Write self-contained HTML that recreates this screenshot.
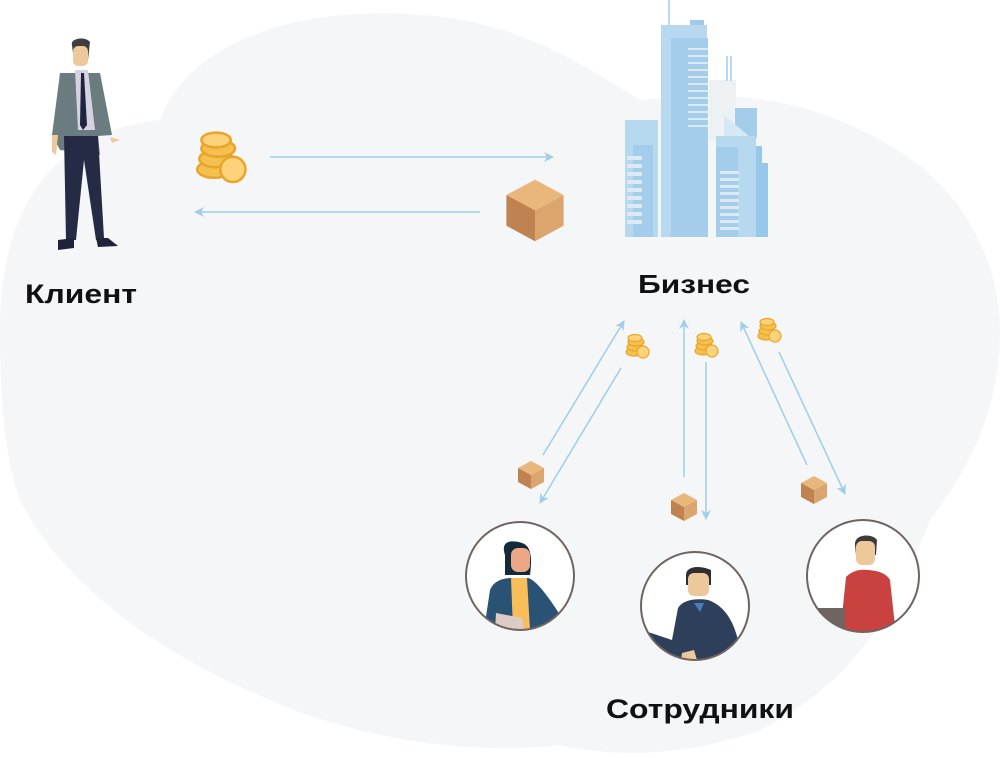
<!DOCTYPE html>
<html><head><meta charset="utf-8"><style>
html,body{margin:0;padding:0;background:#fff;}
svg{display:block}
text{font-family:"Liberation Sans",sans-serif;font-weight:bold;fill:#111}
</style></head><body>
<svg width="1000" height="758" viewBox="0 0 1000 758" xmlns="http://www.w3.org/2000/svg">
<defs>
<marker id="ah" markerWidth="10" markerHeight="10" refX="9" refY="5" orient="auto" markerUnits="userSpaceOnUse">
<path d="M0,0 L10,5 L0,10 L3,5 Z" fill="#9fcdea"/></marker>
<g id="coins">
<ellipse cx="0" cy="14" rx="8" ry="4" fill="#f4c04f" stroke="#e9a52a" stroke-width="1.2"/>
<ellipse cx="1" cy="9" rx="8" ry="4" fill="#f4c04f" stroke="#e9a52a" stroke-width="1.2"/>
<ellipse cx="2" cy="4" rx="8" ry="4" fill="#f4c04f" stroke="#e9a52a" stroke-width="1.2"/>
<ellipse cx="1" cy="0" rx="7" ry="3.5" fill="#fcd27a" stroke="#e9a52a" stroke-width="1.2"/>
<circle cx="9" cy="14" r="6" fill="#fcd27a" stroke="#e9a52a" stroke-width="1.2"/>
</g>
<g id="box">
<path d="M0,-12 L13,-5 L0,2 L-13,-5Z" fill="#e9b77c"/>
<path d="M-13,-5 L0,2 L0,16 L-13,9Z" fill="#c08250"/>
<path d="M13,-5 L0,2 L0,16 L13,9Z" fill="#dba66d"/>
</g>
</defs>
<!-- blob -->
<path d="M0,330 C0,200 60,130 160,120 C190,40 300,5 420,15 C520,20 590,70 640,100 C700,95 780,85 880,140 C960,180 1000,260 1000,330 C1000,420 960,480 930,520 C900,600 860,680 760,730 C680,760 600,755 560,745 C470,755 360,740 270,700 C150,650 60,580 20,500 C5,460 0,400 0,330Z" fill="#f5f6f8"/>
<!-- client -->
<g>
<path d="M72,45 C70,38 86,36 90,42 L88,60 L74,62 Z" fill="#3d3d3d"/>
<rect x="73" y="46" width="15" height="20" rx="5" fill="#ecc89b"/>
<path d="M60,73 L100,73 L112,135 L98,136 L100,155 L60,150 L52,135 Z" fill="#6a7c7f"/>
<path d="M75,70 L88,70 L95,130 L78,130 Z" fill="#d7d2e2"/>
<path d="M81,73 L84,73 L87,125 L83,130 L80,125Z" fill="#1f2540"/>
<path d="M64,136 L98,136 L104,238 L96,240 L84,160 L76,240 L66,240 Z" fill="#262b45"/>
<path d="M58,240 L74,238 L74,248 L58,250Z" fill="#1f2238"/>
<path d="M96,238 L108,238 L118,246 L98,247Z" fill="#1f2238"/>
<path d="M110,137 L120,140 L112,143Z" fill="#ecc89b"/>
<path d="M52,135 L58,135 L56,155 L52,152Z" fill="#ecc89b"/>
</g>
<text x="25" y="303" font-size="27" textLength="112" lengthAdjust="spacingAndGlyphs">Клиент</text>
<!-- coins big -->
<g transform="translate(214,140) scale(2.1)"><use href="#coins"/></g>
<g transform="translate(535,206) scale(2.2)"><use href="#box"/></g>
<line x1="270" y1="157" x2="553" y2="157" stroke="#9fcdea" stroke-width="1.5" marker-end="url(#ah)"/>
<line x1="480" y1="212" x2="195" y2="212" stroke="#9fcdea" stroke-width="1.5" marker-end="url(#ah)"/>
<!-- building -->
<g>
<rect x="668" y="0" width="2" height="26" fill="#b9dbef"/>
<rect x="690" y="20" width="14" height="6" fill="#9ecbea"/>
<rect x="661" y="25" width="46" height="212" fill="#b7d9ef"/>
<rect x="671" y="38" width="37" height="199" fill="#a4cdeb"/>
<rect x="709" y="80" width="27" height="60" fill="#eef1f4"/>
<rect x="726" y="56" width="2" height="25" fill="#b7d9ef"/><rect x="730" y="56" width="2" height="25" fill="#b7d9ef"/>
<rect x="625" y="120" width="33" height="117" fill="#b7d9ef"/>
<rect x="633" y="145" width="20" height="92" fill="#a4cdeb"/>
<rect x="735" y="108" width="22" height="30" fill="#a4cdeb"/>
<path d="M724,115 L750,137 L724,137Z" fill="#d6e8f4"/>
<rect x="716" y="136" width="40" height="101" fill="#b7d9ef"/>
<rect x="716" y="147" width="22" height="90" fill="#a4cdeb"/>
<rect x="756" y="146" width="6" height="91" fill="#97c7e9"/><rect x="762" y="163" width="6" height="74" fill="#97c7e9"/>
<g fill="#dde9f2">
<rect x="688" y="48" width="20" height="2"/><rect x="688" y="55" width="20" height="2"/><rect x="688" y="62" width="20" height="2"/><rect x="688" y="69" width="20" height="2"/><rect x="688" y="76" width="20" height="2"/><rect x="688" y="83" width="20" height="2"/><rect x="688" y="90" width="20" height="2"/><rect x="688" y="97" width="20" height="2"/><rect x="688" y="104" width="20" height="2"/><rect x="688" y="111" width="20" height="2"/><rect x="688" y="118" width="20" height="2"/><rect x="688" y="125" width="20" height="2"/>
<rect x="627" y="156" width="15" height="4"/><rect x="627" y="164" width="15" height="4"/><rect x="627" y="172" width="15" height="4"/><rect x="627" y="180" width="15" height="4"/><rect x="627" y="188" width="15" height="4"/><rect x="627" y="196" width="15" height="4"/><rect x="627" y="204" width="15" height="4"/><rect x="627" y="212" width="15" height="4"/><rect x="627" y="220" width="15" height="4"/>
<rect x="720" y="171" width="19" height="3"/><rect x="720" y="178" width="19" height="3"/><rect x="720" y="185" width="19" height="3"/><rect x="720" y="192" width="19" height="3"/><rect x="720" y="199" width="19" height="3"/><rect x="720" y="206" width="19" height="3"/><rect x="720" y="213" width="19" height="3"/><rect x="720" y="220" width="19" height="3"/><rect x="720" y="227" width="19" height="3"/>
</g>
</g>
<text x="638" y="293" font-size="26" textLength="112" lengthAdjust="spacingAndGlyphs">Бизнес</text>
<!-- employee arrows -->
<g stroke="#9fcdea" stroke-width="1.5" marker-end="url(#ah)">
<line x1="543" y1="455" x2="624" y2="321"/>
<line x1="621" y1="368" x2="540" y2="503"/>
<line x1="684" y1="477" x2="684" y2="320"/>
<line x1="706" y1="362" x2="706" y2="519"/>
<line x1="807" y1="465" x2="741" y2="322"/>
<line x1="779" y1="352" x2="845" y2="494"/>
</g>
<use href="#coins" transform="translate(634,338)"/>
<use href="#coins" transform="translate(703,337)"/>
<use href="#coins" transform="translate(766,322)"/>
<use href="#box" transform="translate(531,473)"/>
<use href="#box" transform="translate(684,505)"/>
<use href="#box" transform="translate(814,488)"/>
<!-- employees -->
<defs>
<clipPath id="c1"><circle cx="520" cy="576" r="54"/></clipPath>
<clipPath id="c2"><circle cx="695" cy="606" r="54"/></clipPath>
<clipPath id="c3"><circle cx="863" cy="576" r="56"/></clipPath>
</defs>
<circle cx="520" cy="576" r="54" fill="#fff"/>
<g clip-path="url(#c1)">
<path d="M505,555 C500,540 512,540 522,543 C532,546 532,560 530,575 L505,575Z" fill="#122a3a"/>
<rect x="511" y="548" width="19" height="24" rx="7" fill="#eba786"/>
<path d="M490,590 C494,580 504,578 512,578 L528,578 C536,580 548,596 560,615 L556,630 L484,630Z" fill="#2a5275"/>
<path d="M511,578 L527,578 L530,630 L513,630Z" fill="#f9bd59"/>
<path d="M496,613 L522,618 L525,632 L495,630Z" fill="#ddcbc5"/>
</g>
<circle cx="520" cy="576" r="54" fill="none" stroke="#6f6560" stroke-width="2"/>
<circle cx="695" cy="606" r="54" fill="#fff"/>
<g clip-path="url(#c2)">
<path d="M686,575 C686,566 700,565 711,570 L711,585 L686,585Z" fill="#2f2f2f"/>
<rect x="688" y="573" width="21" height="23" rx="6" fill="#ecc89b"/>
<path d="M678,608 C683,600 695,598 708,600 C720,604 732,615 738,640 L738,665 L648,665 L648,632 L672,640Z" fill="#2e3f5c"/>
<path d="M694,603 L704,603 L700,612Z" fill="#4b7fb8"/>
<path d="M682,653 L694,650 L697,660 L681,660Z" fill="#ecc89b"/>
</g>
<circle cx="695" cy="606" r="54" fill="none" stroke="#6f6560" stroke-width="2"/>
<circle cx="863" cy="576" r="56" fill="#fff"/>
<g clip-path="url(#c3)">
<path d="M855,545 C854,534 872,533 877,540 L876,555 L856,555Z" fill="#3b3b3b"/>
<rect x="856" y="541" width="19" height="24" rx="6" fill="#ecc89b"/>
<path d="M846,577 C852,571 860,569 866,570 C874,570 886,572 890,580 L896,635 L840,635Z" fill="#c9423f"/>
<path d="M815,608 L845,608 L845,640 L815,640Z" fill="#6f6560"/>
</g>
<circle cx="863" cy="576" r="56" fill="none" stroke="#6f6560" stroke-width="2"/>
<text x="606" y="718" font-size="27" textLength="188" lengthAdjust="spacingAndGlyphs">Сотрудники</text>
</svg>
</body></html>
